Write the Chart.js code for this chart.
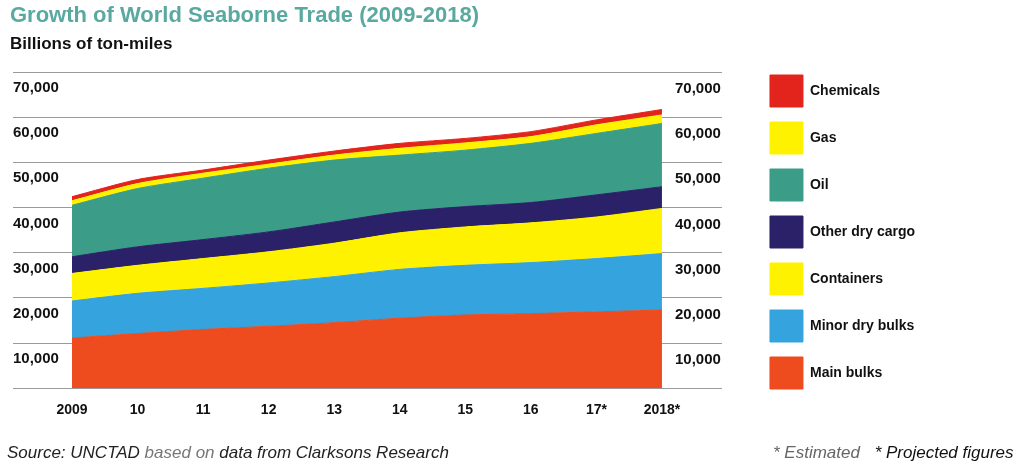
<!DOCTYPE html>
<html>
<head>
<meta charset="utf-8">
<title>Growth of World Seaborne Trade (2009-2018)</title>
<script src="https://cdn.jsdelivr.net/npm/chart.js@4.4.1/dist/chart.umd.min.js"></script>
<style>
  body { margin: 0; background: #fff; }
  #wrap { position: relative; width: 1034px; height: 470px; font-family: "Liberation Sans", Arial, sans-serif; }
  #chart { position: absolute; left: 0; top: 0; }
  #title { position: absolute; left: 10px; top: 2px; font-size: 22px; font-weight: bold; color: #5aa9a1; white-space: nowrap; }
  #unit { position: absolute; left: 10px; top: 34px; font-size: 17px; font-weight: bold; color: #111; white-space: nowrap; }
  #source { position: absolute; left: 7px; top: 443px; font-size: 17px; font-style: italic; color: #222; white-space: nowrap; }
  #source span { color: #777; }
  #notes { position: absolute; left: 773px; top: 443px; font-size: 17px; font-style: italic; color: #111; white-space: nowrap; }
  #notes span { color: #666; margin-right: 10px; }
</style>
</head>
<body>
<div id="wrap">
  <canvas id="chart" width="1034" height="470"></canvas>
  <div id="title">Growth of World Seaborne Trade (2009-2018)</div>
  <div id="unit">Billions of ton-miles</div>
  <div id="source">Source: UNCTAD <span>based on</span> data from Clarksons Research</div>
  <div id="notes"><span>* Estimated</span> * Projected figures</div>
</div>
<script>
// data (billions of ton-miles)
var years = ['2009', '10', '11', '12', '13', '14', '15', '16', '17*', '2018*'];
var mainBulks     = [11100, 12100, 13000, 13700, 14500, 15500, 16200, 16500, 16900, 17300];
var minorDryBulks = [8200, 8900, 9100, 9600, 10200, 10800, 11000, 11300, 11800, 12500];
var containers    = [6100, 6200, 6600, 6900, 7400, 8100, 8500, 8800, 9200, 10000];
var otherDryCargo = [3700, 4100, 4200, 4400, 4700, 4600, 4500, 4500, 4900, 4800];
var oil           = [11400, 12900, 13600, 14100, 13700, 12600, 12500, 13100, 13600, 14000];
var gas           = [1000, 1100, 1100, 900, 1100, 1500, 1600, 1500, 1900, 1900];
var chemicals     = [900, 900, 700, 900, 900, 1100, 1000, 1100, 1100, 1200];

var FONT = '"Liberation Sans", Arial, sans-serif';
Chart.defaults.font.family = FONT;
Chart.defaults.color = '#111';

function area(label, data, color, fill) {
  return {
    label: label,
    data: data,
    backgroundColor: color,
    borderColor: color,
    borderWidth: 1,
    pointRadius: 0,
    tension: 0.25,
    fill: fill
  };
}

function tickLabel(v) {
  return v === 0 ? '' : v.toLocaleString('en-US');
}

var gridColor = '#9a9a9a';

new Chart(document.getElementById('chart'), {
  type: 'line',
  data: {
    labels: years,
    datasets: [
      area('Main bulks', mainBulks, '#ee4b1f', 'origin'),
      area('Minor dry bulks', minorDryBulks, '#35a3dd', '-1'),
      area('Containers', containers, '#fff200', '-1'),
      area('Other dry cargo', otherDryCargo, '#2b2169', '-1'),
      area('Oil', oil, '#3b9d88', '-1'),
      area('Gas', gas, '#fff200', '-1'),
      area('Chemicals', chemicals, '#e3241d', '-1')
    ]
  },
  options: {
    responsive: false,
    animation: false,
    layout: { padding: { left: 13, top: 60, right: 109, bottom: 45 } },
    plugins: {
      tooltip: { enabled: false },
      legend: {
        position: 'right',
        align: 'start',
        reverse: true,
        maxWidth: 300,
        labels: {
          boxWidth: 33,
          boxHeight: 32,
          padding: 15,
          color: '#111',
          font: { size: 14, weight: 'bold' }
        }
      }
    },
    scales: {
      x: {
        offset: false,
        grid: { display: false },
        border: { display: false },
        ticks: { autoSkip: false, maxRotation: 0, padding: 6, color: '#111', font: { size: 14, weight: 'bold' } }
      },
      // spacer so the plot starts a little below the legend top
      xTop: {
        axis: 'x',
        position: 'top',
        grid: { display: false },
        border: { display: false },
        ticks: { display: false },
        afterFit: function (s) { s.height = 12; }
      },
      y: {
        stacked: true,
        min: 0,
        max: 70000,
        border: { display: false },
        grid: { color: gridColor, tickLength: 59, tickColor: gridColor },
        ticks: {
          stepSize: 10000,
          crossAlign: 'far',
          labelOffset: 16,
          color: '#111',
          font: { size: 15, weight: 'bold' },
          callback: tickLabel
        },
        afterFit: function (s) { s.width = 59; }
      },
      y2: {
        position: 'right',
        min: 0,
        max: 70000,
        border: { display: false },
        grid: { drawOnChartArea: false, tickLength: 60, tickColor: gridColor },
        ticks: {
          stepSize: 10000,
          crossAlign: 'near',
          padding: -47,
          labelOffset: 17,
          color: '#111',
          font: { size: 15, weight: 'bold' },
          callback: tickLabel
        },
        afterFit: function (s) { s.width = 93; }
      }
    }
  }
});
</script>
</body>
</html>
